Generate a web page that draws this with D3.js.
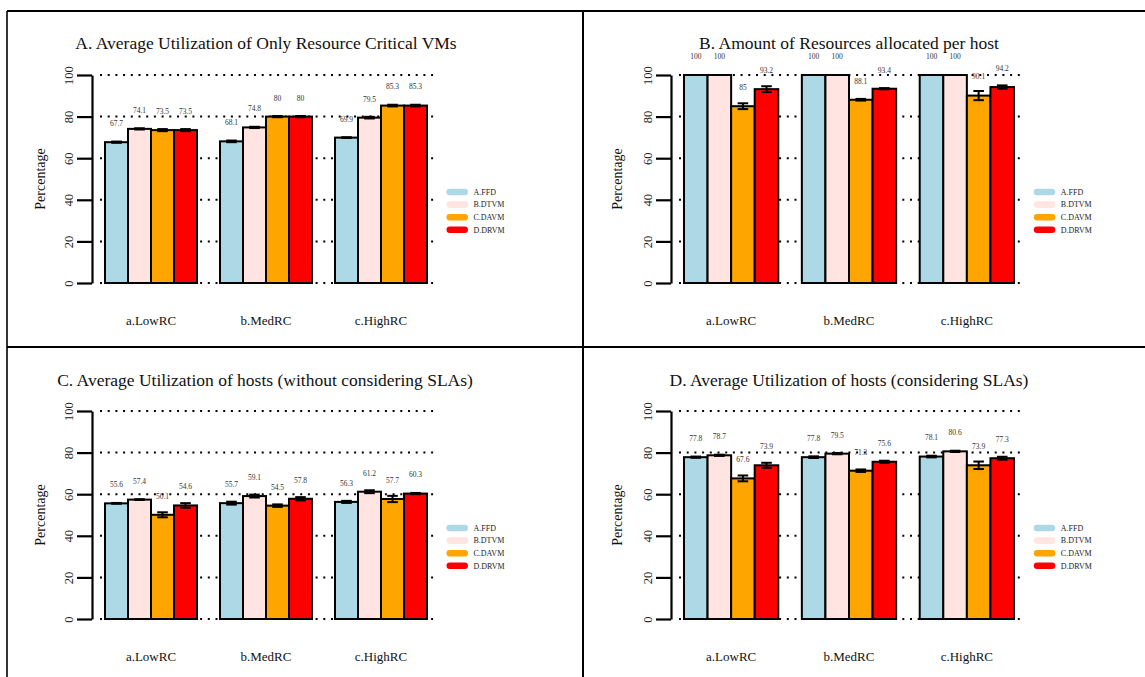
<!DOCTYPE html>
<html>
<head>
<meta charset="utf-8">
<script src="https://cdn.jsdelivr.net/npm/d3@7"></script>
<style>
  html, body { margin: 0; padding: 0; background: #fff; }
  svg text { font-family: "Liberation Serif", "Times New Roman", Times, "DejaVu Serif", serif; }
</style>
</head>
<body>
<svg id="chart" width="1145" height="677"></svg>
<script>
// ---- data ----
const categories = ["a.LowRC", "b.MedRC", "c.HighRC"];
const seriesNames = ["A.FFD", "B.DTVM", "C.DAVM", "D.DRVM"];
const seriesColors = ["#ADD8E6", "#FFE4E1", "#FFA500", "#FF0000"];
const yTicks = [0, 20, 40, 60, 80, 100];

const titles = [
  "A. Average Utilization of Only Resource Critical VMs",
  "B. Amount of Resources allocated per host",
  "C. Average Utilization of hosts (without considering SLAs)",
  "D. Average Utilization of hosts (considering SLAs)"
];

// rows: series (FFD, DTVM, DAVM, DRVM); columns: categories
const criticalUtil = [
  [67.7, 68.1, 69.9],
  [74.1, 74.8, 79.5],
  [73.5, 80.0, 85.3],
  [73.5, 80.0, 85.3]
];
const criticalUtilErr = [
  [0.3, 0.4, 0.2],
  [0.3, 0.3, 0.4],
  [0.5, 0.3, 0.4],
  [0.5, 0.3, 0.4]
];

const allocated = [
  [100, 100, 100],
  [100, 100, 100],
  [85.0, 88.1, 90.1],
  [93.2, 93.4, 94.2]
];
const allocatedErr = [
  [0, 0, 0],
  [0, 0, 0],
  [1.4, 0.4, 2.2],
  [1.4, 0.3, 0.8]
];

const hostUtil = [
  [55.6, 55.7, 56.3],
  [57.4, 59.1, 61.2],
  [50.1, 54.5, 57.7],
  [54.6, 57.8, 60.3]
];
const hostUtilErr = [
  [0.2, 0.7, 0.5],
  [0.2, 0.7, 0.7],
  [1.2, 0.6, 1.5],
  [1.1, 0.8, 0.3]
];

const hostUtilSla = [
  [77.8, 77.8, 78.1],
  [78.7, 79.5, 80.6],
  [67.6, 71.3, 73.9],
  [73.9, 75.6, 77.3]
];
const hostUtilSlaErr = [
  [0.3, 0.4, 0.4],
  [0.3, 0.3, 0.3],
  [1.4, 0.6, 1.8],
  [1.2, 0.5, 0.7]
];

// ---- layout ----
const SERIF = '"Liberation Serif", "Times New Roman", Times, "DejaVu Serif", serif';
const panels = [
  { title: titles[0], values: criticalUtil, errors: criticalUtilErr,
    axisX: 92, xRange: [93.5, 438.5], yRange: [283, 75], titleX: 266, titleY: 49, ylabX: 40, catY: 325 },
  { title: titles[1], values: allocated, errors: allocatedErr,
    axisX: 671, xRange: [672.2, 1025.8], yRange: [283, 75], titleX: 849, titleY: 49, ylabX: 617, catY: 325 },
  { title: titles[2], values: hostUtil, errors: hostUtilErr,
    axisX: 92, xRange: [93.5, 438.5], yRange: [619, 411], titleX: 265, titleY: 386, ylabX: 40, catY: 661 },
  { title: titles[3], values: hostUtilSla, errors: hostUtilSlaErr,
    axisX: 671, xRange: [672.2, 1025.8], yRange: [619, 411], titleX: 849, titleY: 386, ylabX: 617, catY: 661 }
];

const svg = d3.select("#chart");

// panel frame lines
const frame = svg.append("g").attr("stroke", "#000");
frame.append("line").attr("x1", 7).attr("x2", 1145).attr("y1", 11).attr("y2", 11).attr("stroke-width", 2);
frame.append("line").attr("x1", 7).attr("x2", 7).attr("y1", 11).attr("y2", 677).attr("stroke-width", 1.6);
frame.append("line").attr("x1", 583).attr("x2", 583).attr("y1", 11).attr("y2", 677).attr("stroke-width", 2);
frame.append("line").attr("x1", 7).attr("x2", 1145).attr("y1", 347).attr("y2", 347).attr("stroke-width", 2);

panels.forEach(p => {
  const g = svg.append("g").attr("font-family", SERIF);

  const y = d3.scaleLinear().domain([0, 100]).range(p.yRange);
  const x0 = d3.scaleBand().domain(categories).range(p.xRange).paddingInner(0.2).paddingOuter(0.1);
  const x1 = d3.scaleBand().domain(seriesNames).range([0, x0.bandwidth()]).padding(0);

  // dotted reference lines
  g.append("g").selectAll("line").data(yTicks).join("line")
    .attr("x1", p.axisX + 8).attr("x2", p.xRange[1] - 3)
    .attr("y1", d => y(d)).attr("y2", d => y(d))
    .attr("stroke", "#000").attr("stroke-width", 2)
    .attr("stroke-dasharray", "2,5.7");

  // title
  g.append("text").attr("x", p.titleX).attr("y", p.titleY)
    .attr("text-anchor", "middle").attr("font-size", 17.5).attr("fill", "#111")
    .attr("font-family", SERIF)
    .text(p.title);

  // y axis
  const axis = d3.axisLeft(y).tickValues(yTicks).tickSize(15).tickSizeOuter(0).tickFormat("");
  const ax = g.append("g").attr("transform", `translate(${p.axisX},0)`).call(axis)
    .attr("font-family", SERIF);
  ax.select(".domain").attr("stroke-width", 2.2);
  ax.selectAll(".tick line").attr("stroke-width", 2.2);
  ax.selectAll(".tick").append("text")
    .attr("transform", "translate(-23,0) rotate(-90)")
    .attr("text-anchor", "middle").attr("dy", "0.35em")
    .attr("fill", "#222").attr("font-size", 12.5)
    .attr("font-family", SERIF)
    .text(d => d);

  g.append("text")
    .attr("transform", `translate(${p.ylabX},${(p.yRange[0] + p.yRange[1]) / 2}) rotate(-90)`)
    .attr("text-anchor", "middle").attr("dy", "0.35em")
    .attr("font-size", 14).attr("fill", "#111")
    .attr("font-family", SERIF)
    .text("Percentage");

  // bars
  const rows = [];
  categories.forEach((c, ci) => {
    seriesNames.forEach((s, si) => {
      rows.push({ cat: c, ser: s, si, v: p.values[si][ci], e: p.errors[si][ci] });
    });
  });

  const bx = d => x0(d.cat) + x1(d.ser);
  g.append("g").selectAll("rect").data(rows).join("rect")
    .attr("x", bx)
    .attr("y", d => y(d.v))
    .attr("width", x1.bandwidth())
    .attr("height", d => y(0) - y(d.v))
    .attr("fill", d => seriesColors[d.si])
    .attr("stroke", "#000").attr("stroke-width", 2);

  // error bars
  const eb = g.append("g").attr("stroke", "#000").attr("stroke-width", 2);
  const cx = d => bx(d) + x1.bandwidth() / 2;
  rows.filter(d => d.e > 0).forEach(d => {
    eb.append("line").attr("x1", cx(d)).attr("x2", cx(d)).attr("y1", y(d.v - d.e)).attr("y2", y(d.v + d.e));
    [d.v - d.e, d.v + d.e].forEach(t => {
      eb.append("line").attr("x1", cx(d) - 5.3).attr("x2", cx(d) + 5.3).attr("y1", y(t)).attr("y2", y(t));
    });
  });

  // value labels
  g.append("g").selectAll("text").data(rows).join("text")
    .attr("x", cx).attr("y", d => y(d.v + 9))
    .attr("dy", "0.35em").attr("text-anchor", "middle")
    .attr("font-size", 7.5).attr("fill", "#333")
    .attr("font-family", SERIF)
    .text(d => d3.format("")(d.v));

  // category labels
  g.append("g").selectAll("text").data(categories).join("text")
    .attr("x", d => x0(d) + x0.bandwidth() / 2).attr("y", p.catY)
    .attr("text-anchor", "middle").attr("font-size", 13).attr("fill", "#111")
    .attr("font-family", SERIF)
    .text(d => d);

  // legend
  const lx = p.xRange[1] + 8;
  const ly = y(0) - 91;
  const leg = g.append("g").selectAll("g").data(seriesNames).join("g")
    .attr("transform", (d, i) => `translate(${lx},${ly + i * 12.6})`);
  leg.append("rect").attr("x", 0).attr("y", -3.3).attr("width", 21.5).attr("height", 6.6)
    .attr("rx", 3.3).attr("fill", (d, i) => seriesColors[i]);
  leg.append("text").attr("x", 27).attr("dy", "0.35em")
    .attr("font-size", 8).attr("fill", "#222")
    .attr("font-family", SERIF)
    .text(d => d);
});
</script>
</body>
</html>
